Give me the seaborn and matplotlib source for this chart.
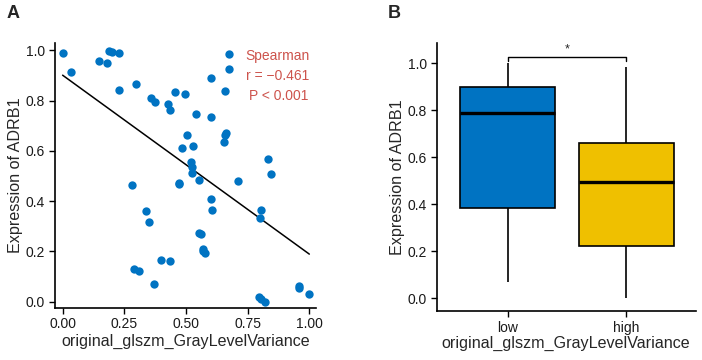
import numpy as np
import pandas as pd
import seaborn as sns
import matplotlib.pyplot as plt

# Panel A: radiomic feature vs ADRB1 expression
feat = [0.000, 0.032, 0.149, 0.180, 0.189, 0.200, 0.228, 0.230, 0.296, 0.358,
        0.376, 0.428, 0.434, 0.455, 0.497, 0.541, 0.505, 0.484, 0.527, 0.520,
        0.524, 0.524, 0.554, 0.470, 0.473, 0.280, 0.603, 0.601, 0.676, 0.673,
        0.659, 0.661, 0.659, 0.654, 0.709, 0.832, 0.843, 0.601, 0.605, 0.338,
        0.349, 0.554, 0.561, 0.568, 0.570, 0.577, 0.288, 0.311, 0.397, 0.434,
        0.369, 0.804, 0.800, 0.795, 0.804, 0.820, 0.959, 0.959, 1.000]
expr = [0.989, 0.913, 0.959, 0.950, 0.999, 0.993, 0.989, 0.841, 0.864, 0.811,
        0.793, 0.787, 0.764, 0.836, 0.825, 0.746, 0.662, 0.613, 0.620, 0.554,
        0.534, 0.510, 0.483, 0.472, 0.470, 0.464, 0.891, 0.736, 0.987, 0.925,
        0.838, 0.672, 0.661, 0.634, 0.478, 0.567, 0.509, 0.408, 0.364, 0.359,
        0.318, 0.274, 0.269, 0.208, 0.201, 0.192, 0.128, 0.123, 0.166, 0.160,
        0.070, 0.364, 0.334, 0.020, 0.009, 0.000, 0.064, 0.053, 0.030]

# Panel B: box summary (min, q1, median, q3, max)
groups = ["low", "high"]
low_vals = [0.070, 0.385, 0.790, 0.900, 1.000]
high_vals = [0.000, 0.223, 0.495, 0.662, 0.986]

blue = "#0073C2"
yellow = "#EFC000"
red = "#CD534C"

sns.set_style("ticks")
plt.rcParams["font.family"] = ["Liberation Sans", "DejaVu Sans"]

fig = plt.figure(figsize=(7.02, 3.6), dpi=100)
ax1 = fig.add_axes([0.0783, 0.1453, 0.3718, 0.736])
ax2 = fig.add_axes([0.622, 0.136, 0.369, 0.7436])

df = pd.DataFrame({"x": feat, "y": expr})
sns.scatterplot(data=df, x="x", y="y", ax=ax1, color=blue, s=36,
                linewidth=0, zorder=3)
sns.regplot(data=df, x="x", y="y", ax=ax1, scatter=False, ci=None,
            color="black", line_kws={"linewidth": 1.1}, truncate=True)
ax1.set_xlim(-0.031, 1.027)
ax1.set_ylim(-0.024, 1.030)
ax1.set_xticks([0, 0.25, 0.5, 0.75, 1.0])
ax1.set_xticklabels(["0.00", "0.25", "0.50", "0.75", "1.00"])
ax1.set_yticks(np.arange(0, 1.01, 0.2))
ax1.set_yticklabels([f"{v:.1f}" for v in np.arange(0, 1.01, 0.2)])
ax1.set_xlabel("original_glszm_GrayLevelVariance", fontsize=11.6, labelpad=2)
ax1.set_ylabel("Expression of ADRB1", fontsize=11.6, labelpad=2)
ax1.text(0.871, 0.977, "Spearman", color=red, fontsize=10, ha="center", va="center")
ax1.text(0.871, 0.898, "r = \u22120.461", color=red, fontsize=10, ha="center", va="center")
ax1.text(0.875, 0.820, "P < 0.001", color=red, fontsize=10, ha="center", va="center")

bdf = pd.DataFrame({"group": ["low"] * len(low_vals) + ["high"] * len(high_vals),
                    "val": low_vals + high_vals})
sns.boxplot(data=bdf, x="group", y="val", order=groups, hue="group",
            palette={"low": blue, "high": yellow}, legend=False, ax=ax2,
            width=0.8, whis=1.5, saturation=1,
            boxprops={"edgecolor": "black", "linewidth": 1.2},
            whiskerprops={"color": "black", "linewidth": 1.2},
            capprops={"linewidth": 0},
            medianprops={"color": "black", "linewidth": 2.4})
ax2.set_xlim(-0.597, 1.582)
ax2.set_ylim(-0.054, 1.085)
ax2.set_yticks(np.arange(0, 1.01, 0.2))
ax2.set_yticklabels([f"{v:.1f}" for v in np.arange(0, 1.01, 0.2)])
ax2.set_xlabel("original_glszm_GrayLevelVariance", fontsize=11.6, labelpad=1)
ax2.set_ylabel("Expression of ADRB1", fontsize=11.6, labelpad=2)
ax2.plot([0, 0, 1, 1], [1.012, 1.028, 1.028, 1.012], color="black", linewidth=1.0)
ax2.text(0.5, 1.034, "*", ha="center", va="bottom", fontsize=9)

for ax in (ax1, ax2):
    sns.despine(ax=ax)
    ax.tick_params(axis="both", labelsize=10, length=4, width=1.0, color="black",
                   labelcolor="#1a1a1a", pad=3)
    for sp in ("left", "bottom"):
        ax.spines[sp].set_linewidth(1.2)
        ax.spines[sp].set_color("black")

fig.text(0.010, 0.962, "A", fontsize=13, fontweight="bold", va="center")
fig.text(0.553, 0.962, "B", fontsize=13, fontweight="bold", va="center")

fig.savefig("out.png", dpi=100)
